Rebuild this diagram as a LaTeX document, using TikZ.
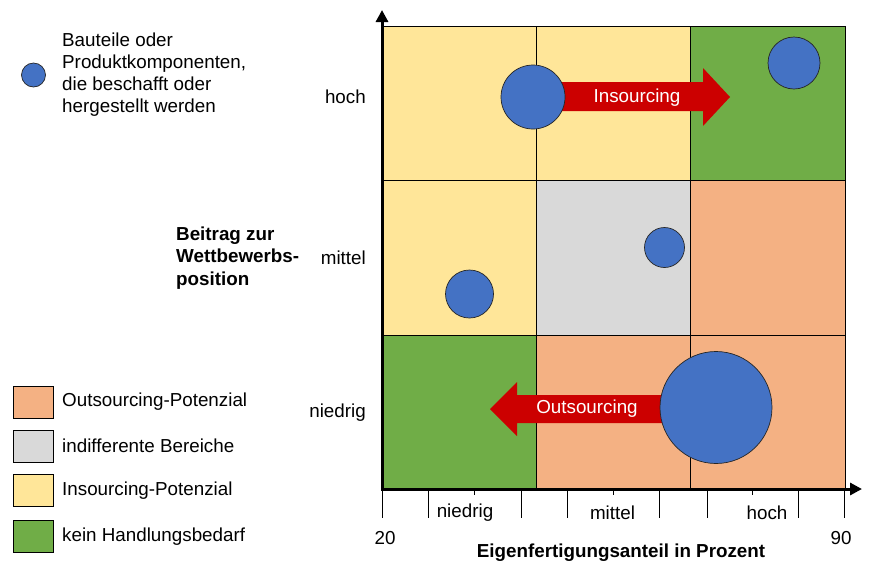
\documentclass[tikz,border=0pt]{standalone}
\usepackage{fontspec}
\setmainfont{Liberation Sans}
\usetikzlibrary{arrows.meta, positioning}

\definecolor{insource}{HTML}{FFE699}
\definecolor{outsource}{HTML}{F4B183}
\definecolor{indiff}{HTML}{D9D9D9}
\definecolor{nothing}{HTML}{70AD47}
\definecolor{partblue}{HTML}{4472C4}
\definecolor{arrowred}{HTML}{CC0000}

\tikzset{
    part/.style={circle, draw=black!85, line width=0.7pt, fill=partblue, inner sep=0pt},
    legbox/.style={draw=black, line width=0.8pt, minimum width=40pt, minimum height=32pt, inner sep=0pt},
    lbl/.style={inner sep=0pt, font=\fontsize{18.8}{22}\selectfont},
    axisline/.style={line width=3pt, {Triangle[length=12pt,width=12pt]}-{Triangle[length=12pt,width=12pt]}},
}

\begin{document}
\begin{tikzpicture}[x=1pt, y=-1pt]
        \useasboundingbox (0,0) rectangle (880,579);
        % portfolio cells
        \foreach \col/\row/\clr in {0/0/insource, 1/0/insource, 2/0/nothing,
                                    0/1/insource, 1/1/indiff, 2/1/outsource,
                                    0/2/nothing, 1/2/outsource, 2/2/outsource} {
            \fill[\clr] ({382+154.3*\col},{26+154.3*\row}) rectangle +(154.3,154.3);
        }
        \draw[line width=0.8pt] (382,26) rectangle (845,489);
        \foreach \x in {536,690} {
            \draw[line width=0.8pt] (\x,26) -- (\x,489);
        }
        \foreach \y in {180.5,335} {
            \draw[line width=0.8pt] (382,\y) -- (845,\y);
        }
        % red arrows
        \fill[arrowred] (555,82) -- (703,82) -- (703,68) -- (730,97) -- (703,126) -- (703,111) -- (555,111) -- cycle;
        \fill[arrowred] (680,395) -- (517,395) -- (517,382) -- (490,409) -- (517,436) -- (517,423) -- (680,423) -- cycle;
        \node[lbl, text=white] (insrc) at (637,98) {Insourcing};
        \node[lbl, text=white] (outsrc) at (587,409) {Outsourcing};
        % parts
        \node[part, minimum size=64pt] (ptop) at (533,97) {};
        \node[part, minimum size=52pt] (pgreen) at (794,63) {};
        \node[part, minimum size=40pt] (pmid) at (664.5,247.5) {};
        \node[part, minimum size=48pt] (plow) at (469.5,294) {};
        \node[part, minimum size=112pt] (pbig) at (716,407.5) {};
        % axes
        \draw[axisline] (382,10) -- (382,489) -- (862,489);
        \foreach \x in {428,521,567,659,707,798,844} {
            \draw[line width=0.8pt] (\x,489) -- (\x,518);
        }
        \draw[line width=0.8pt] (382,489) -- (382,518);
        \foreach \x in {474,613,752} {
            \draw[line width=0.8pt] (\x,489) -- (\x,495);
        }
        \node[lbl] (xlow) at (465,513) {niedrig};
        \node[lbl] (xmid) at (612.5,513) {mittel};
        \node[lbl] (xhigh) at (767,513) {hoch};
        \node[lbl] (xmin) at (385,538) {20};
        \node[lbl] (xmax) at (841,538) {90};
        \node[lbl, font=\fontsize{18.8}{22}\selectfont\bfseries] (xtitle) at (621,553) {Eigenfertigungsanteil in Prozent};
        \node[lbl, anchor=east] (yhigh) at (366,97) {hoch};
        \node[lbl, anchor=east] (ymid) at (366,258) {mittel};
        \node[lbl, anchor=east] (ylow) at (366,413) {niedrig};
        \node[lbl, anchor=west, align=left, font=\fontsize{18.8}{22.5}\selectfont\bfseries] (ytitle) at (176,258) {Beitrag zur\\Wettbewerbs-\\position};
        % legend
        \node[part, minimum size=24pt] (legpart) at (33.5,75) {};
        \node[lbl, anchor=west, align=left] (legparttxt) at (62,75) {Bauteile oder\\Produktkomponenten,\\die beschafft oder\\hergestellt werden};
        \foreach \y/\clr/\txt/\nm in {402/outsource/Outsourcing-Potenzial/lout,
                                      446/indiff/indifferente Bereiche/lind,
                                      490.5/insource/Insourcing-Potenzial/lins,
                                      536.5/nothing/kein Handlungsbedarf/lnot} {
            \node[legbox, fill=\clr] (\nm) at (33,\y) {};
            \node[lbl, anchor=west] (\nm txt) at (62,\y) {\txt};
        }
\end{tikzpicture}
\end{document}
